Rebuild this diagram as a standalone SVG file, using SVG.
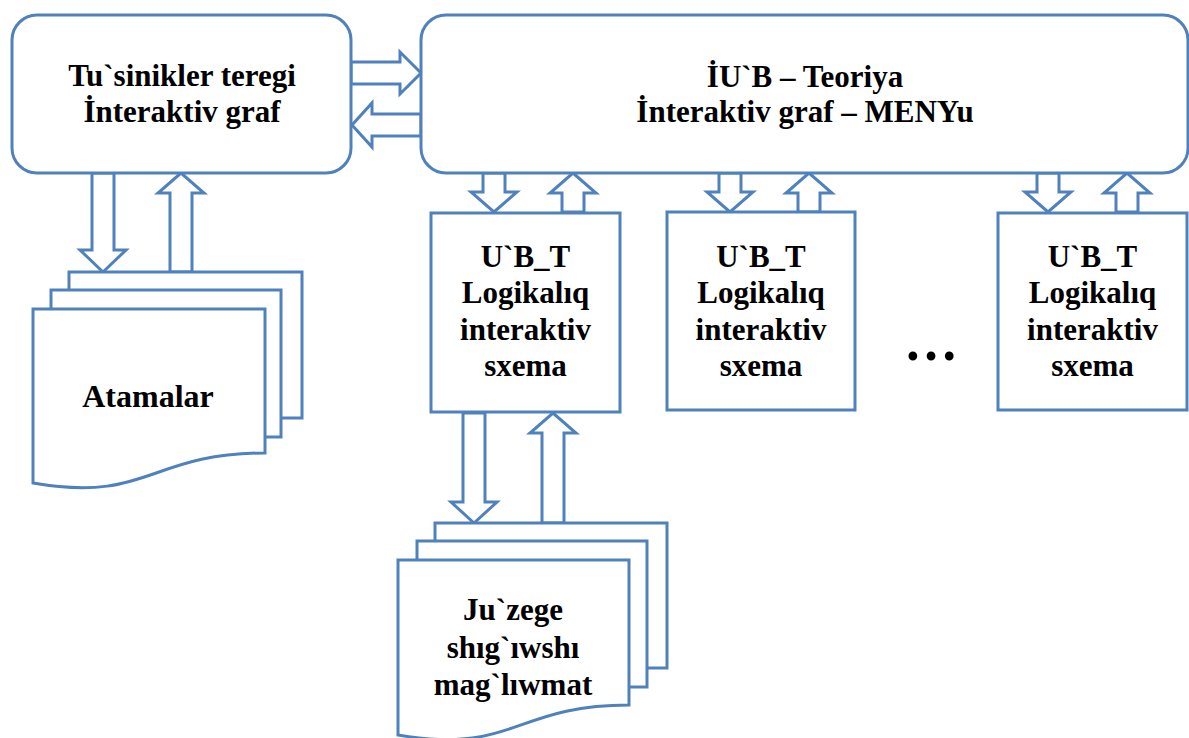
<svg xmlns="http://www.w3.org/2000/svg" width="1189" height="738" viewBox="0 0 1189 738">
<style>
.sh{fill:#ffffff;stroke:#4f81bd;stroke-width:3;stroke-linejoin:miter}
.ar{fill:#ffffff;stroke:#4f81bd;stroke-width:3;stroke-linejoin:miter}
.t{font-family:'Liberation Serif',Tinos,'Times New Roman',Times,'DejaVu Serif',serif;font-weight:bold;font-size:31px;fill:#000;text-anchor:middle}
</style>
<rect width="1189" height="738" fill="#ffffff"/>
<g id="connectors">
<polygon class="ar" points="351,62 400,62 400,52 421,73 400,94 400,84 351,84"/>
<polygon class="ar" points="421,114 372,114 372,103 352,125 372,147 372,136 421,136"/>
<polygon class="ar" points="92,173 92,250 80,250 103,272 126,250 114,250 114,173"/>
<polygon class="ar" points="170,272 170,193 158,193 181,173 204,193 192,193 192,272"/>
<polygon class="ar" points="483,173 483,192 471,192 494,212 517,192 505,192 505,173"/>
<polygon class="ar" points="562,212 562,193 550,193 573,173 596,193 584,193 584,212"/>
<polygon class="ar" points="719,173 719,192 707,192 730,212 753,192 741,192 741,173"/>
<polygon class="ar" points="798,212 798,193 786,193 809,173 832,193 820,193 820,212"/>
<polygon class="ar" points="1037,173 1037,192 1025,192 1048,212 1071,192 1059,192 1059,173"/>
<polygon class="ar" points="1116,212 1116,193 1104,193 1127,173 1150,193 1138,193 1138,212"/>
<polygon class="ar" points="463,413 463,502 451,502 474,523 497,502 485,502 485,413"/>
<polygon class="ar" points="542,523 542,433 530,433 553,413 576,433 564,433 564,523"/>
</g>
<g id="node-tusinikler">
<rect class="sh" x="12" y="15" width="339" height="158" rx="25" ry="25"/>
<text class="t" x="182" y="86" font-family="Liberation Serif, serif">Tu`sinikler teregi</text>
<text class="t" x="182" y="122" font-family="Liberation Serif, serif">İnteraktiv graf</text>
</g>
<g id="node-iub">
<rect class="sh" x="421" y="15" width="767" height="158" rx="25" ry="25"/>
<text class="t" x="805" y="87">İU`B – Teoriya</text>
<text class="t" x="805" y="122">İnteraktiv graf – MENYu</text>
</g>
<g id="node-ubt1">
<rect class="sh" x="431" y="213" width="189" height="199"/>
<text class="t" x="525.5" y="267">U`B_T</text>
<text class="t" x="525.5" y="303">Logikalıq</text>
<text class="t" x="525.5" y="340">interaktiv</text>
<text class="t" x="525.5" y="376">sxema</text>
</g>
<g id="node-ubt2">
<rect class="sh" x="667" y="212" width="188" height="198"/>
<text class="t" x="761" y="267">U`B_T</text>
<text class="t" x="761" y="303">Logikalıq</text>
<text class="t" x="761" y="340">interaktiv</text>
<text class="t" x="761" y="376">sxema</text>
</g>
<g id="node-dots">
<text class="t" x="931" y="360" style="font-size:54px">…</text>
</g>
<g id="node-ubt3">
<rect class="sh" x="998" y="213" width="189" height="197"/>
<text class="t" x="1092.5" y="267">U`B_T</text>
<text class="t" x="1092.5" y="303">Logikalıq</text>
<text class="t" x="1092.5" y="340">interaktiv</text>
<text class="t" x="1092.5" y="376">sxema</text>
</g>
<g id="node-atamalar">
<rect class="sh" x="69" y="272" width="233" height="146"/>
<rect class="sh" x="51" y="290" width="230" height="147"/>
<path class="sh" d="M33,309 L265,309 L265,453 C149,453 149,503 33,483 Z"/>
<text class="t" x="148" y="407" style="font-size:32px">Atamalar</text>
</g>
<g id="node-juzege">
<rect class="sh" x="435" y="523" width="232" height="145"/>
<rect class="sh" x="417" y="541" width="230" height="146"/>
<path class="sh" d="M398,560 L629,560 L629,705 C514,705 514,755 398,735 Z"/>
<text class="t" x="513" y="620">Ju`zege</text>
<text class="t" x="513" y="658">shıg`ıwshı</text>
<text class="t" x="513" y="695">mag`lıwmat</text>
</g>
</svg>
